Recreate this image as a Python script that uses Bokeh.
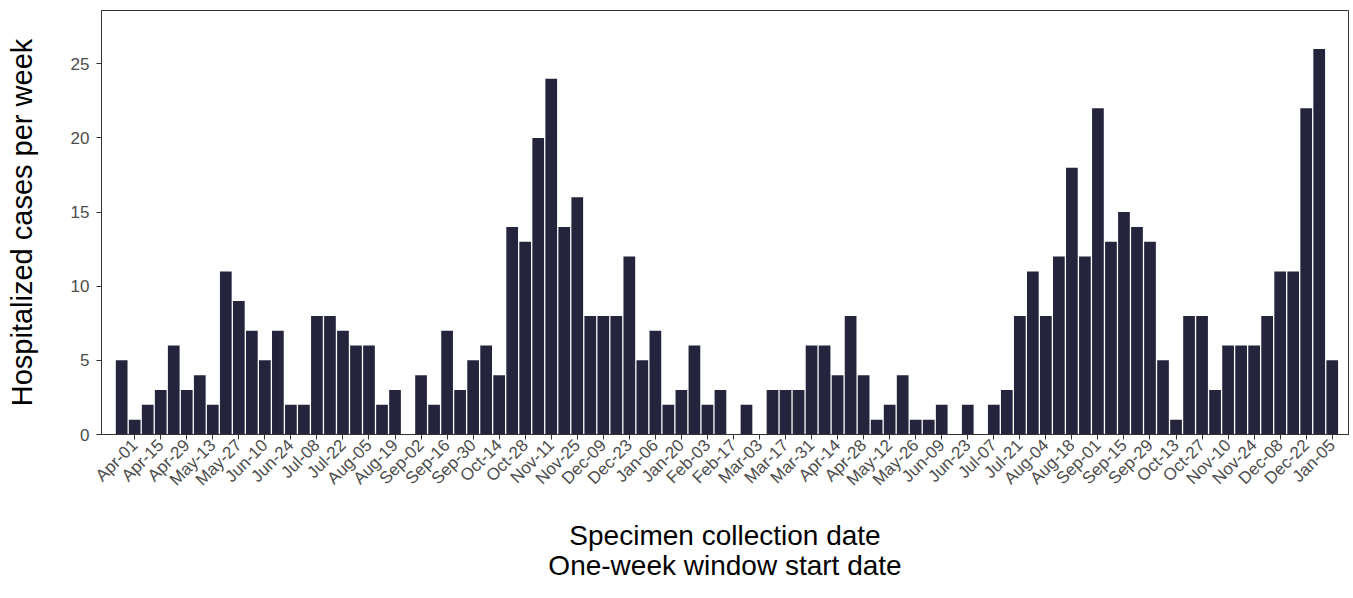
import math
from bokeh.plotting import figure
from bokeh.models import FixedTicker, Range1d
from bokeh.embed import file_html
from bokeh.resources import INLINE

# Weekly hospitalized cases; first bar is the week starting 2018-03-25,
# last bar is the week starting 2020-01-05
cases = [5, 1, 2, 3, 6, 3, 4, 2, 11, 9, 7, 5, 7, 2, 2, 8, 8, 7, 6, 6, 2, 3,
         0,
         4, 2, 7, 3, 5, 6, 4, 14, 13, 20, 24, 14, 16, 8, 8, 8, 12, 5, 7, 2, 3, 6, 2, 3,
         0, 2, 0,
         3, 3, 3, 6, 6, 4, 8, 4, 1, 2, 4, 1, 1, 2,
         0, 2, 0,
         2, 3, 8, 11, 8, 12, 18, 12, 22, 13, 15, 14, 13, 5, 1, 8, 8, 3, 6, 6, 6, 8,
         11, 11, 22, 26, 5]

# Tick labels every two weeks, starting at the second bar (Apr-01)
tick_labels = ["Apr-01", "Apr-15", "Apr-29", "May-13", "May-27", "Jun-10", "Jun-24",
               "Jul-08", "Jul-22", "Aug-05", "Aug-19", "Sep-02", "Sep-16", "Sep-30",
               "Oct-14", "Oct-28", "Nov-11", "Nov-25", "Dec-09", "Dec-23", "Jan-06",
               "Jan-20", "Feb-03", "Feb-17", "Mar-03", "Mar-17", "Mar-31", "Apr-14",
               "Apr-28", "May-12", "May-26", "Jun-09", "Jun-23", "Jul-07", "Jul-21",
               "Aug-04", "Aug-18", "Sep-01", "Sep-15", "Sep-29", "Oct-13", "Oct-27",
               "Nov-10", "Nov-24", "Dec-08", "Dec-22", "Jan-05"]

x = list(range(len(cases)))
tick_pos = [1 + 2 * k for k in range(len(tick_labels))]

FONT = "Liberation Sans"

p = figure(frame_width=1247, frame_height=424, output_backend="svg", toolbar_location=None,
           x_range=Range1d(-1.55, 94.25), y_range=Range1d(0, 28.6),
           min_border_left=101, min_border_right=2, min_border_top=10, min_border_bottom=0,
           background_fill_color="white", border_fill_color="white")

p.vbar(x=x, top=cases, width=0.9, fill_color="#25243d", line_color=None)

p.xgrid.visible = False
p.ygrid.visible = False
p.outline_line_color = "#333333"
p.outline_line_width = 1

xa = p.xaxis[0]
xa.ticker = FixedTicker(ticks=tick_pos)
xa.major_label_overrides = {pos: lab for pos, lab in zip(tick_pos, tick_labels)}
xa.major_label_orientation = math.pi / 4
xa.major_label_text_font = FONT
xa.major_label_text_font_size = "17px"
xa.major_label_text_color = "#4d4d4d"
xa.major_label_standoff = 3
xa.axis_label = "Specimen collection date\nOne-week window start date"
xa.axis_label_text_font = FONT
xa.axis_label_text_font_size = "28px"
xa.axis_label_text_font_style = "normal"
xa.axis_label_text_color = "#000000"
xa.axis_label_text_line_height = 0.97
xa.axis_label_standoff = 21

ya = p.yaxis[0]
ya.ticker = FixedTicker(ticks=[0, 5, 10, 15, 20, 25])
ya.major_label_text_font = FONT
ya.major_label_text_font_size = "17px"
ya.major_label_text_color = "#4d4d4d"
ya.major_label_standoff = 7
ya.axis_label = "Hospitalized cases per week"
ya.axis_label_text_font = FONT
ya.axis_label_text_font_size = "29px"
ya.axis_label_text_font_style = "normal"
ya.axis_label_text_color = "#000000"
ya.axis_label_standoff = 30

for ax in (xa, ya):
    ax.axis_line_color = "#333333"
    ax.major_tick_line_color = "#333333"
    ax.major_tick_out = 5
    ax.major_tick_in = 0
    ax.minor_tick_line_color = None

open("out.html", "w").write(file_html(p, INLINE))
